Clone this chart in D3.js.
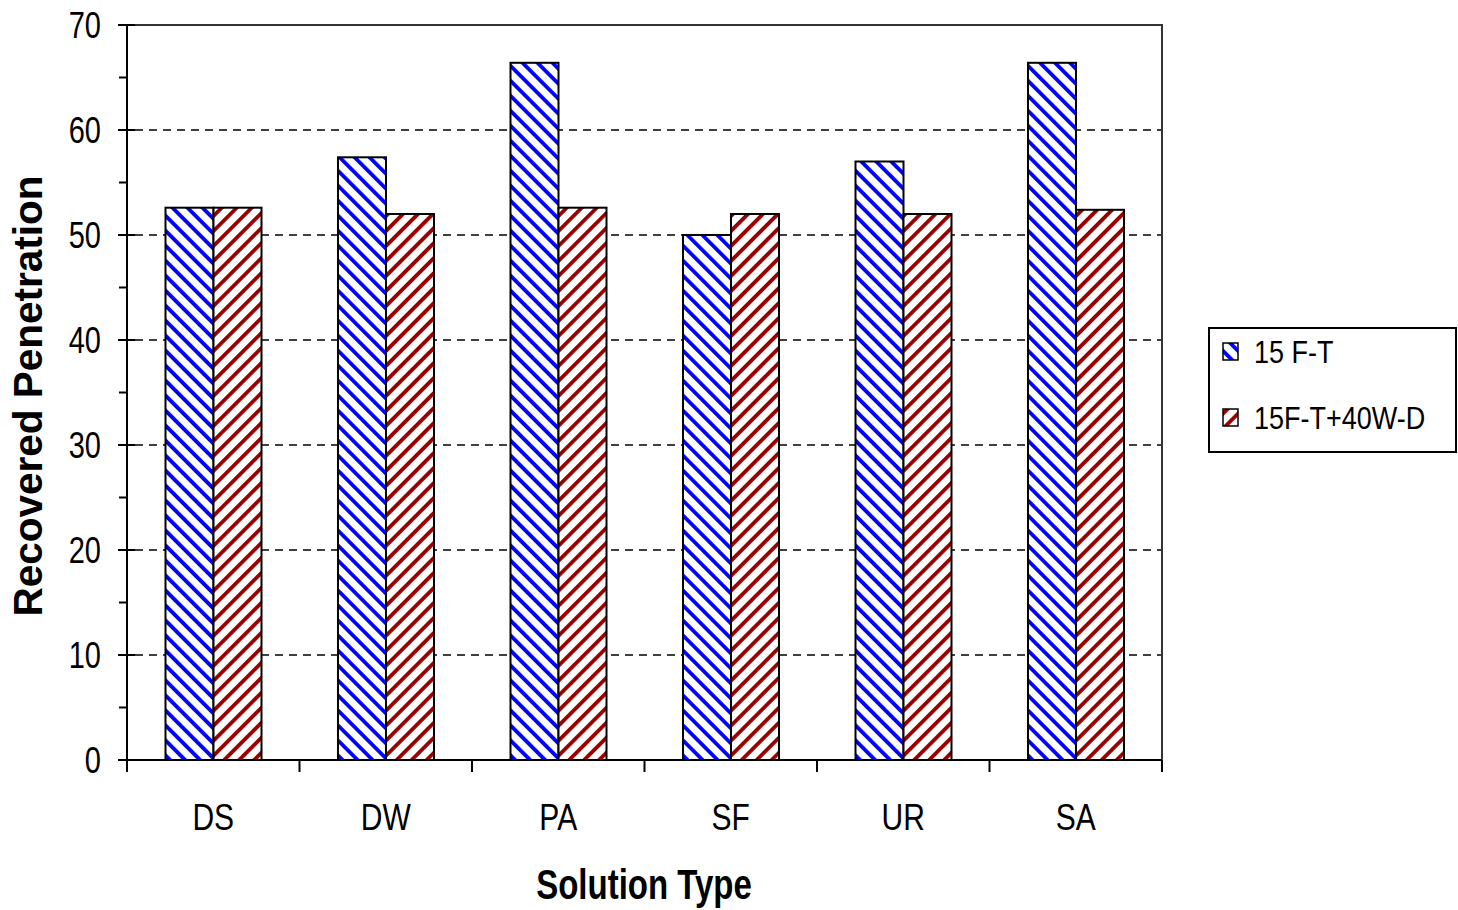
<!DOCTYPE html>
<html>
<head>
<meta charset="utf-8">
<script src="https://d3js.org/d3.v7.min.js"></script>
<style>
  body { margin: 0; background: #fff; }
  text { font-family: "Liberation Sans", Arial, sans-serif; fill: #000; }
</style>
</head>
<body>
<script>
  // data
  var categories = ["DS", "DW", "PA", "SF", "UR", "SA"];
  var seriesNames = ["15 F-T", "15F-T+40W-D"];
  var ft15 = [52.6, 57.4, 66.4, 50.0, 57.0, 66.4];
  var ftwd = [52.6, 52.0, 52.6, 52.0, 52.0, 52.4];
  var yTicks = [0, 10, 20, 30, 40, 50, 60, 70];
  var yMinor = [5, 15, 25, 35, 45, 55, 65];

  var W = 1458, H = 910;
  var pL = 127, pR = 1162, pT = 25, pB = 760;

  var svg = d3.select("body").append("svg")
      .attr("width", W)
      .attr("height", H);

  var defs = svg.append("defs");
  function hatch(id, color, angle) {
    var p = defs.append("pattern")
        .attr("id", id)
        .attr("patternUnits", "userSpaceOnUse")
        .attr("width", 10.6).attr("height", 10.6)
        .attr("patternTransform", "rotate(" + angle + ")");
    p.append("rect").attr("width", 10.6).attr("height", 10.6).attr("fill", "#fff");
    p.append("rect").attr("width", 3.8).attr("height", 10.6).attr("fill", color);
  }
  hatch("hBlue", "#0000ff", -45);
  hatch("hRed", "#990000", 45);
  var fills = ["url(#hBlue)", "url(#hRed)"];

  var x = d3.scaleBand().domain(categories).range([pL, pR]).padding(0);
  var xs = d3.scaleBand().domain(seriesNames).range([38.5, 134.5]);
  var y = d3.scaleLinear().domain([0, 70]).range([pB, pT]);

  // gridlines
  svg.append("g").selectAll("line")
    .data(yTicks.filter(d => d > 0 && d < 70))
    .enter().append("line")
      .attr("x1", pL + 8).attr("x2", pR)
      .attr("y1", d => y(d)).attr("y2", d => y(d))
      .attr("stroke", "#000").attr("stroke-width", 1.5)
      .attr("stroke-dasharray", "8,6");

  // frame top / right
  svg.append("path")
    .attr("d", "M" + pL + "," + pT + "H" + pR + "V" + (pB + 12))
    .attr("fill", "none").attr("stroke", "#333").attr("stroke-width", 2);

  // bars
  var rows = categories.map((c, i) => ({cat: c, vals: [ft15[i], ftwd[i]]}));
  var grp = svg.append("g").selectAll("g")
    .data(rows).enter().append("g")
      .attr("transform", d => "translate(" + x(d.cat) + ",0)");
  grp.selectAll("rect")
    .data(d => d.vals.map((v, j) => ({s: seriesNames[j], v: v, j: j})))
    .enter().append("rect")
      .attr("x", d => xs(d.s))
      .attr("width", xs.bandwidth())
      .attr("y", d => y(d.v))
      .attr("height", d => y(0) - y(d.v))
      .attr("fill", d => fills[d.j])
      .attr("stroke", "#000").attr("stroke-width", 2);

  // y axis
  var ya = svg.append("g");
  ya.append("line").attr("x1", pL).attr("x2", pL)
    .attr("y1", pT).attr("y2", pB).attr("stroke", "#000").attr("stroke-width", 2);
  ya.selectAll(".maj").data(yTicks).enter().append("line")
    .attr("x1", pL - 9).attr("x2", pL + 8)
    .attr("y1", d => y(d)).attr("y2", d => y(d))
    .attr("stroke", "#000").attr("stroke-width", 2);
  ya.selectAll(".min").data(yMinor).enter().append("line")
    .attr("x1", pL - 8).attr("x2", pL)
    .attr("y1", d => y(d)).attr("y2", d => y(d))
    .attr("stroke", "#000").attr("stroke-width", 2);
  ya.selectAll("text").data(yTicks).enter().append("text")
    .attr("transform", d => "translate(101," + y(d) + ") scale(1,1.27)")
    .attr("text-anchor", "end")
    .attr("dy", "0.36em")
    .style("font-size", "29px")
    .text(d => d);

  // x axis
  var xa = svg.append("g");
  xa.append("line").attr("x1", pL - 9).attr("x2", pR)
    .attr("y1", pB).attr("y2", pB).attr("stroke", "#000").attr("stroke-width", 2);
  var bounds = categories.map(c => x(c)).concat([pR]);
  xa.selectAll(".tk").data(bounds).enter().append("line")
    .attr("x1", d => d).attr("x2", d => d)
    .attr("y1", pB).attr("y2", pB + 12)
    .attr("stroke", "#000").attr("stroke-width", 2);
  xa.selectAll("text").data(categories).enter().append("text")
    .attr("transform", d => "translate(" + (x(d) + x.bandwidth() / 2) + ",830) scale(1,1.25)")
    .attr("text-anchor", "middle")
    .style("font-size", "30px")
    .text(d => d);

  // titles
  svg.append("text")
    .attr("transform", "translate(644,899) scale(1,1.3)")
    .attr("text-anchor", "middle")
    .style("font-size", "33px").style("font-weight", "bold")
    .text("Solution Type");
  svg.append("text")
    .attr("transform", "translate(42,396) rotate(-90)")
    .attr("text-anchor", "middle")
    .style("font-size", "40.5px").style("font-weight", "bold")
    .text("Recovered Penetration");

  // legend
  var lg = svg.append("g");
  lg.append("rect").attr("x", 1209).attr("y", 328).attr("width", 247).attr("height", 124)
    .attr("fill", "#fff").attr("stroke", "#000").attr("stroke-width", 2);
  var ly = [352, 418];
  seriesNames.forEach((s, i) => {
    lg.append("rect").attr("x", 1223).attr("y", ly[i] - 9).attr("width", 15).attr("height", 17)
      .attr("fill", fills[i]).attr("stroke", "#000").attr("stroke-width", 1.5);
    lg.append("text")
      .attr("transform", "translate(1254," + ly[i] + ") scale(1,1.15)")
      .attr("dy", "0.36em")
      .style("font-size", "27px")
      .text(s);
  });
</script>
</body>
</html>
